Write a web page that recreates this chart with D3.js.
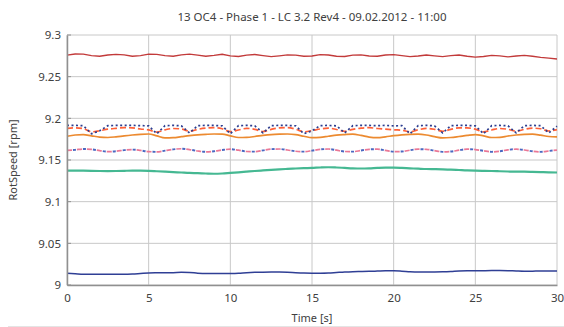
<!DOCTYPE html>
<html>
<head>
<meta charset="utf-8">
<script src="https://cdn.jsdelivr.net/npm/d3@7"></script>
<style>
  body { margin: 0; background: #fff; }
  text { font-family: "Noto Sans", sans-serif; fill: #404040; }
</style>
</head>
<body>
<script>
var title = "13 OC4 - Phase 1 - LC 3.2 Rev4 - 09.02.2012 - 11:00";
var xTicks = [0, 5, 10, 15, 20, 25, 30];
var yTicks = [9, 9.05, 9.1, 9.15, 9.2, 9.25, 9.3];

var time = [0, 0.5, 1, 1.5, 2, 2.5, 3, 3.5, 4, 4.5, 5, 5.5, 6, 6.5, 7, 7.5, 8, 8.5, 9, 9.5,
  10, 10.5, 11, 11.5, 12, 12.5, 13, 13.5, 14, 14.5, 15, 15.5, 16, 16.5, 17, 17.5, 18, 18.5, 19, 19.5,
  20, 20.5, 21, 21.5, 22, 22.5, 23, 23.5, 24, 24.5, 25, 25.5, 26, 26.5, 27, 27.5, 28, 28.5, 29, 29.5, 30];

var red = [9.2758, 9.2772, 9.2770, 9.2752, 9.2745, 9.2760, 9.2768, 9.2762, 9.2745, 9.2752,
  9.2770, 9.2768, 9.2752, 9.2745, 9.2762, 9.2770, 9.2758, 9.2745, 9.2755, 9.2768,
  9.2750, 9.2742, 9.2758, 9.2766, 9.2752, 9.2740, 9.2750, 9.2762, 9.2758, 9.2745,
  9.2748, 9.2765, 9.2760, 9.2745, 9.2742, 9.2758, 9.2762, 9.2748, 9.2745, 9.2760,
  9.2765, 9.2752, 9.2740, 9.2748, 9.2760, 9.2750, 9.2740, 9.2752, 9.2760, 9.2745,
  9.2735, 9.2742, 9.2755, 9.2750, 9.2738, 9.2748, 9.2756, 9.2745, 9.2732, 9.2722, 9.2712];

var blueTop = [9.1915, 9.1915, 9.1912, 9.1815, 9.1850, 9.1912, 9.1915, 9.1915, 9.1915, 9.1912,
  9.1910, 9.1815, 9.1912, 9.1915, 9.1910, 9.1825, 9.1912, 9.1915, 9.1915, 9.1910,
  9.1815, 9.1912, 9.1915, 9.1910, 9.1825, 9.1912, 9.1915, 9.1915, 9.1910, 9.1815,
  9.1850, 9.1912, 9.1915, 9.1910, 9.1825, 9.1912, 9.1915, 9.1915, 9.1912, 9.1915,
  9.1910, 9.1912, 9.1815, 9.1912, 9.1915, 9.1910, 9.1825, 9.1912, 9.1915, 9.1915,
  9.1910, 9.1815, 9.1912, 9.1915, 9.1910, 9.1825, 9.1912, 9.1915, 9.1912, 9.1825, 9.1905];

var orangeDash = [9.1880, 9.1885, 9.1878, 9.1838, 9.1852, 9.1870, 9.1880, 9.1888, 9.1885, 9.1872,
  9.1862, 9.1835, 9.1862, 9.1878, 9.1872, 9.1845, 9.1868, 9.1882, 9.1888, 9.1875,
  9.1840, 9.1860, 9.1880, 9.1868, 9.1842, 9.1868, 9.1885, 9.1888, 9.1870, 9.1838,
  9.1852, 9.1872, 9.1882, 9.1866, 9.1845, 9.1868, 9.1882, 9.1888, 9.1878, 9.1870,
  9.1862, 9.1858, 9.1838, 9.1862, 9.1880, 9.1868, 9.1845, 9.1868, 9.1885, 9.1885,
  9.1870, 9.1838, 9.1860, 9.1878, 9.1868, 9.1845, 9.1868, 9.1882, 9.1875, 9.1848, 9.1865];

var orange = [9.1785, 9.1800, 9.1805, 9.1790, 9.1775, 9.1770, 9.1778, 9.1790, 9.1800, 9.1808,
  9.1812, 9.1790, 9.1765, 9.1768, 9.1780, 9.1792, 9.1802, 9.1808, 9.1812, 9.1810,
  9.1790, 9.1770, 9.1772, 9.1782, 9.1795, 9.1805, 9.1810, 9.1812, 9.1805, 9.1785,
  9.1768, 9.1772, 9.1785, 9.1798, 9.1805, 9.1810, 9.1795, 9.1775, 9.1768, 9.1778,
  9.1792, 9.1802, 9.1808, 9.1810, 9.1800, 9.1780, 9.1765, 9.1770, 9.1782, 9.1795,
  9.1805, 9.1790, 9.1770, 9.1772, 9.1788, 9.1800, 9.1808, 9.1810, 9.1798, 9.1782, 9.1778];

var pinkMid = [9.1615, 9.1622, 9.1632, 9.1628, 9.1612, 9.1600, 9.1605, 9.1618, 9.1625, 9.1615,
  9.1600, 9.1598, 9.1612, 9.1628, 9.1635, 9.1625, 9.1608, 9.1598, 9.1605, 9.1620,
  9.1630, 9.1618, 9.1602, 9.1600, 9.1615, 9.1630, 9.1632, 9.1620, 9.1605, 9.1600,
  9.1612, 9.1628, 9.1632, 9.1618, 9.1602, 9.1600, 9.1614, 9.1628, 9.1630, 9.1615,
  9.1600, 9.1602, 9.1618, 9.1630, 9.1628, 9.1612, 9.1598, 9.1602, 9.1618, 9.1630,
  9.1625, 9.1610, 9.1598, 9.1605, 9.1622, 9.1630, 9.1620, 9.1605, 9.1598, 9.1608, 9.1620];

var green = [9.1372, 9.1373, 9.1372, 9.1370, 9.1368, 9.1367, 9.1368, 9.1370, 9.1372, 9.1372,
  9.1370, 9.1365, 9.1360, 9.1355, 9.1350, 9.1345, 9.1342, 9.1338, 9.1335, 9.1338,
  9.1345, 9.1352, 9.1360, 9.1368, 9.1375, 9.1382, 9.1388, 9.1393, 9.1398, 9.1402,
  9.1405, 9.1410, 9.1413, 9.1410, 9.1405, 9.1400, 9.1398, 9.1400, 9.1405, 9.1408,
  9.1408, 9.1405, 9.1400, 9.1396, 9.1392, 9.1390, 9.1388, 9.1385, 9.1380, 9.1375,
  9.1372, 9.1370, 9.1368, 9.1365, 9.1362, 9.1360, 9.1360, 9.1358, 9.1355, 9.1352, 9.1350];

var navy = [9.0140, 9.0135, 9.0130, 9.0128, 9.0129, 9.0130, 9.0130, 9.0129, 9.0132, 9.0138,
  9.0144, 9.0146, 9.0147, 9.0148, 9.0152, 9.0150, 9.0142, 9.0138, 9.0138, 9.0138,
  9.0139, 9.0142, 9.0148, 9.0152, 9.0154, 9.0155, 9.0155, 9.0153, 9.0148, 9.0144,
  9.0142, 9.0142, 9.0144, 9.0150, 9.0156, 9.0160, 9.0162, 9.0164, 9.0167, 9.0170,
  9.0170, 9.0166, 9.0160, 9.0156, 9.0155, 9.0156, 9.0158, 9.0162, 9.0168, 9.0170,
  9.0170, 9.0172, 9.0173, 9.0174, 9.0172, 9.0168, 9.0165, 9.0166, 9.0168, 9.0168, 9.0168];

var seriesList = [
  { values: green, color: "#45b892", width: 2.2, dash: null, smooth: true },
  { values: navy, color: "#2f3f95", width: 1.5, dash: null, smooth: true },
  { values: red, color: "#c23a3a", width: 1.4, dash: null, smooth: false },
  { values: orange, color: "#ec8a30", width: 1.7, dash: null, smooth: true },
  { values: orangeDash, color: "#ff6038", width: 1.7, dash: "6,3", smooth: true },
  { values: blueTop, color: "#2c3d8f", width: 1.7, dash: "2,2.5", smooth: false },
  { values: pinkMid, color: "#ea7896", width: 1.7, dash: "5,5", smooth: true },
  { values: pinkMid, color: "#4a68c0", width: 1.9, dash: "0,6,3,1", smooth: true }
];

var margin = {top: 35, right: 7, bottom: 42, left: 67},
    width = 564 - margin.left - margin.right,
    height = 327 - margin.top - margin.bottom;

var svgRoot = d3.select("body").append("svg")
    .attr("width", 564)
    .attr("height", 327);

var svg = svgRoot.append("g")
    .attr("transform", "translate(" + margin.left + "," + margin.top + ")");

var x = d3.scaleLinear().domain([0, 30]).range([0, width]);
var y = d3.scaleLinear().domain([9, 9.3]).range([height, 0]);

// grid
svg.selectAll(".vgrid").data(xTicks).enter().append("line")
    .attr("x1", function(d) { return x(d); })
    .attr("x2", function(d) { return x(d); })
    .attr("y1", 0).attr("y2", height)
    .attr("stroke", "#c8c8c8").attr("stroke-width", 1);

svg.selectAll(".hgrid").data(yTicks).enter().append("line")
    .attr("x1", 0).attr("x2", width)
    .attr("y1", function(d) { return y(d); })
    .attr("y2", function(d) { return y(d); })
    .attr("stroke", "#c8c8c8").attr("stroke-width", 1);

// small inside ticks on the y axis
svg.selectAll(".ytick").data(yTicks).enter().append("line")
    .attr("x1", 0).attr("x2", 4)
    .attr("y1", function(d) { return y(d); })
    .attr("y2", function(d) { return y(d); })
    .attr("stroke", "#909090");

var smoothLine = d3.line()
    .x(function(d, i) { return x(time[i]); })
    .y(function(d) { return y(d); })
    .curve(d3.curveMonotoneX);

var rawLine = d3.line()
    .x(function(d, i) { return x(time[i]); })
    .y(function(d) { return y(d); });

seriesList.forEach(function(s) {
  svg.append("path")
      .datum(s.values)
      .attr("d", s.smooth ? smoothLine : rawLine)
      .attr("fill", "none")
      .attr("stroke", s.color)
      .attr("stroke-width", s.width)
      .attr("stroke-dasharray", s.dash);
});

// axes
var xAxis = svg.append("g")
    .attr("transform", "translate(0," + height + ")")
    .call(d3.axisBottom(x).tickValues(xTicks).tickSize(0).tickPadding(9));
xAxis.select(".domain").attr("stroke", "#909090").attr("stroke-width", 1.5);
xAxis.selectAll("text").attr("font-size", "11.5px").attr("fill", "#404040");

var yAxis = svg.append("g")
    .call(d3.axisLeft(y).tickValues(yTicks).tickFormat(d3.format("")).tickSize(0).tickPadding(6));
yAxis.select(".domain").attr("stroke", "#909090").attr("stroke-width", 1.5);
yAxis.selectAll("text").attr("font-size", "11.5px").attr("fill", "#404040");

svgRoot.append("text")
    .attr("x", margin.left + width / 2)
    .attr("y", 21)
    .style("text-anchor", "middle")
    .attr("font-size", "11.5px")
    .text(title);

svgRoot.append("text")
    .attr("x", margin.left + width / 2)
    .attr("y", 322)
    .style("text-anchor", "middle")
    .attr("font-size", "11px")
    .text("Time [s]");

svgRoot.append("text")
    .attr("transform", "rotate(-90)")
    .attr("x", -(margin.top + height / 2))
    .attr("y", 17)
    .style("text-anchor", "middle")
    .attr("font-size", "11px")
    .text("RotSpeed [rpm]");

svgRoot.append("line")
    .attr("x1", 8).attr("x2", 564)
    .attr("y1", 326.5).attr("y2", 326.5)
    .attr("stroke", "#e4e4e4");
</script>
</body>
</html>
